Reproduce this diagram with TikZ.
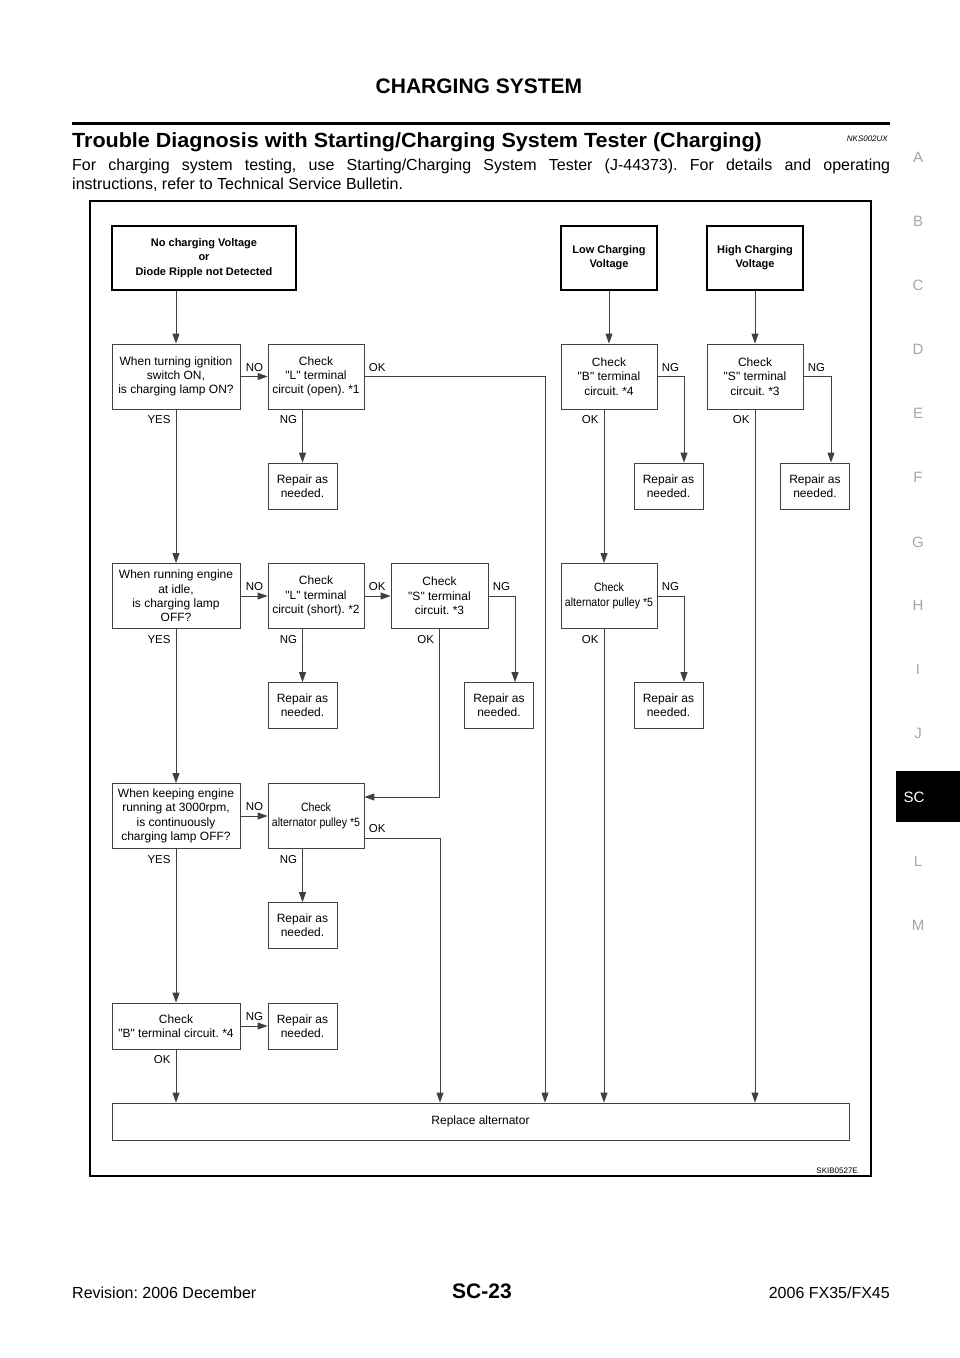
\documentclass[tikz,border=0pt]{standalone}
\usepackage{fontspec}
\setmainfont{Liberation Sans}[Ligatures=TeXOff]
\newfontfamily\narrowfont[FakeStretch=0.88, Ligatures=TeXOff]{Liberation Sans}
\newfontfamily\widefont[FakeStretch=1.05, Ligatures=TeXOff]{Liberation Sans}
\usetikzlibrary{positioning, arrows.meta}

\newcommand{\pulleyfont}{\narrowfont\fontsize{12}{15}\selectfont}

\begin{document}
\frenchspacing
\begin{tikzpicture}[x=1pt, y=-1pt,
    chkbox/.style={draw=black!75, line width=0.8pt, minimum width=96pt, minimum height=65pt, inner sep=1pt, align=center, font=\fontsize{12}{14.3}\selectfont},
    askbox/.style={chkbox, minimum width=128pt},
    fixbox/.style={chkbox, minimum width=69pt, minimum height=46pt},
    topbox/.style={draw, line width=2.4pt, minimum width=96pt, minimum height=64pt, align=center, font=\fontsize{11}{14.3}\selectfont\bfseries},
    flow/.style={draw=black!75, line width=0.9pt, -{Triangle[length=10pt, width=7pt]}},
    tag/.style={inner sep=0pt, font=\fontsize{11.5}{12}\selectfont},
    tagin/.style={tag, anchor=south east, xshift=-4pt, yshift=4.5pt},
    tagout/.style={tag, anchor=south west, xshift=4pt, yshift=4.5pt},
    tagdown/.style={tag, anchor=north east, xshift=-5pt, yshift=-6pt},
    sidetab/.style={text=black!35, font=\fontsize{15}{15}\selectfont}]

    \useasboundingbox (0,0) rectangle (960,1358);

    % Page header
    \node[anchor=base, font=\fontsize{21}{21}\selectfont\bfseries] (head) at (479,93) {CHARGING SYSTEM};
    \draw[line width=2.6pt] (72,123.5) -- (890,123.5);
    \node[anchor=base west, inner sep=0pt, font=\widefont\fontsize{20.5}{20.5}\selectfont\bfseries] (title) at (72,147) {Trouble Diagnosis with Starting/Charging System Tester (Charging)};
    \node[anchor=base east, inner sep=0pt, font=\fontsize{8}{8}\selectfont\itshape] (code) at (888,141) {NKS002UX};
    \node[anchor=base west, inner sep=0pt, font=\fontsize{16}{19}\selectfont] (intro1) at (72,170) {\makebox[818pt][s]{For charging system testing, use Starting/Charging System Tester (J-44373). For details and operating}};
    \node[anchor=base west, inner sep=0pt, font=\fontsize{16}{19}\selectfont] (intro2) at (72,189) {instructions, refer to Technical Service Bulletin.};

    % Side tabs
    \foreach \c/\y in {A/157, B/221, C/285, D/349, E/413, F/477, G/542, H/605, I/669, J/733, L/861, M/925}
        \node[sidetab] (tab-\c) at (918,\y) {\c};
    \fill (896,771) rectangle (960,822);
    \node[sidetab, text=white] (tab-SC) at (914,797) {SC};

    % Page footer
    \node[anchor=base west, inner sep=0pt, font=\fontsize{16}{16}\selectfont] (rev) at (72,1298) {Revision: 2006 December};
    \node[anchor=base, inner sep=0pt, font=\fontsize{21}{21}\selectfont\bfseries] (page) at (482,1298) {SC-23};
    \node[anchor=base east, inner sep=0pt, font=\fontsize{16}{16}\selectfont] (model) at (890,1298) {2006 FX35/FX45};

    % Frame of the chart
    \draw[line width=1.6pt] (90,201) rectangle (871,1176);
    \node[anchor=base east, inner sep=0pt, font=\fontsize{8}{8}\selectfont] (fig) at (858,1173) {SKIB0527E};

    % Symptoms
    \node[topbox, minimum width=184pt] (start) at (204,258) {No charging Voltage\\or\\Diode Ripple not Detected};
    \node[topbox] (low) at (609,258) {Low Charging\\Voltage};
    \node[topbox] (high) at (755,258) {High Charging\\Voltage};

    % First row of checks
    \node[askbox] (ask1) at (176,376.5) {When turning ignition\\switch ON,\\is charging lamp ON?};
    \node[chkbox] (lopen) at (316,376.5) {Check\\"L" terminal\\circuit (open). *1};
    \node[chkbox] (bterm1) at (609,376.5) {Check\\"B" terminal\\circuit. *4};
    \node[chkbox] (sterm1) at (755,376.5) {Check\\"S" terminal\\circuit. *3};

    % Second row of checks
    \node[askbox] (ask2) at (176,596) {When running engine\\at idle,\\is charging lamp\\OFF?};
    \node[chkbox] (lshort) at (316,596) {Check\\"L" terminal\\circuit (short). *2};
    \node[chkbox, minimum width=97pt] (sterm2) at (439.5,596) {Check\\"S" terminal\\circuit. *3};
    \node[chkbox, font=\pulleyfont] (pulley1) at (609,596) {Check\\alternator pulley *5};

    % Third row of checks
    \node[askbox] (ask3) at (176,816) {When keeping engine\\running at 3000rpm,\\is continuously\\charging lamp OFF?};
    \node[chkbox, font=\pulleyfont] (pulley2) at (316,816) {Check\\alternator pulley *5};

    % Last check
    \node[askbox, minimum height=46pt] (bterm2) at (176,1026) {Check\\"B" terminal circuit. *4};

    % Repair boxes
    \foreach \n/\x/\y in {fix1/302.5/486, fix2/668.5/486, fix3/815/486, fix4/302.5/705.5, fix5/499/705.5, fix6/668.5/705.5, fix7/302.5/925.5, fix8/302.5/1026}
        \node[fixbox] (\n) at (\x,\y) {Repair as\\needed.};

    \node[chkbox, minimum width=737pt, minimum height=37pt] (alt) at (480.5,1121.5) {Replace alternator};

    % Symptoms to first checks
    \draw[flow] (start.south -| ask1) -- (ask1);
    \draw[flow] (low) -- (bterm1);
    \draw[flow] (high) -- (sterm1);

    % First row connections
    \draw[flow] (ask1.east) -- (lopen.west) node[tagin] {NO};
    \draw[flow] (lopen.east) node[tagout] {OK} -| ([xshift=64.5pt]alt.north);
    \draw[flow] (fix1 |- lopen.south) node[tagdown] {NG} -- (fix1);
    \draw[flow] (ask1.south) node[tagdown] {YES} -- (ask2.north);
    \draw[flow] (bterm1.east) node[tagout] {NG} -| ([xshift=15.5pt]fix2.north);
    \draw[flow] ([xshift=-5pt]bterm1.south) node[tagdown] {OK} -- ([xshift=-5pt]pulley1.north);
    \draw[flow] (sterm1.east) node[tagout] {NG} -| ([xshift=16pt]fix3.north);
    \draw[flow] (sterm1.south) node[tagdown] {OK} -- (sterm1 |- alt.north);

    % Second row connections
    \draw[flow] (ask2.east) -- (lshort.west) node[tagin] {NO};
    \draw[flow] (lshort.east) node[tagout] {OK} -- (sterm2.west);
    \draw[flow] (fix4 |- lshort.south) node[tagdown] {NG} -- (fix4);
    \draw[flow] (sterm2.east) node[tagout] {NG} -| ([xshift=16pt]fix5.north);
    \draw[flow] (sterm2.south) node[tagdown] {OK} |- ([yshift=19pt]pulley2.east);
    \draw[flow] (pulley1.east) node[tagout] {NG} -| ([xshift=15.5pt]fix6.north);
    \draw[flow] ([xshift=-5pt]pulley1.south) node[tagdown] {OK} -- ([xshift=-5pt]pulley1.south |- alt.north);
    \draw[flow] (ask2.south) node[tagdown] {YES} -- (ask3.north);

    % Third row connections
    \draw[flow] (ask3.east) -- (pulley2.west) node[tagin] {NO};
    \draw[flow] ([yshift=-22pt]pulley2.east) node[tagout] {OK} -| ([xshift=-40.5pt]alt.north);
    \draw[flow] (fix7 |- pulley2.south) node[tagdown] {NG} -- (fix7);
    \draw[flow] (ask3.south) node[tagdown] {YES} -- (bterm2.north);

    % Last check connections
    \draw[flow] (bterm2.east) -- (fix8.west) node[tagin] {NG};
    \draw[flow] (bterm2.south) node[tagdown] {OK} -- (bterm2 |- alt.north);

\end{tikzpicture}
\end{document}
